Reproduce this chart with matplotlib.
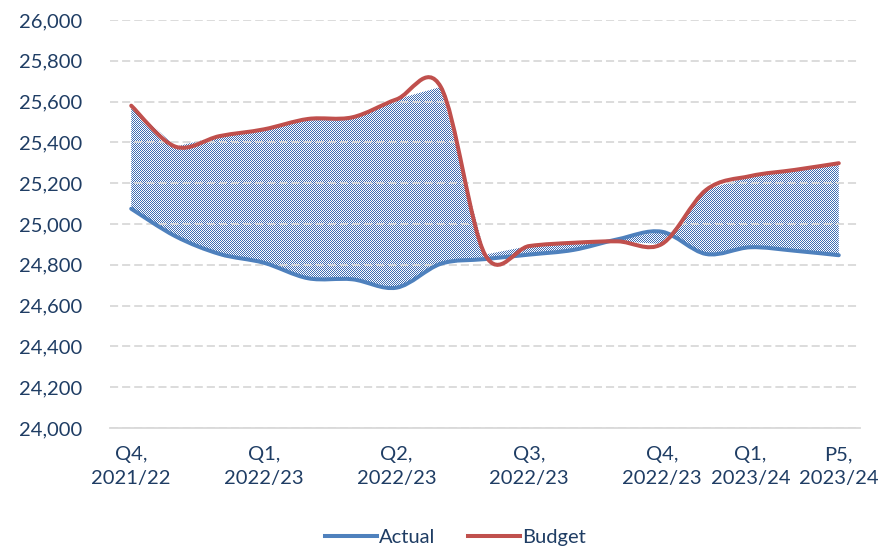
import numpy as np
import matplotlib
matplotlib.use("Agg")
import matplotlib.pyplot as plt
from matplotlib.path import Path
from matplotlib.patches import PathPatch, Polygon
from matplotlib.ticker import FuncFormatter

# Dados (17 pontos, de Q4 2021/22 até P5 2023/24)
actual = [25075, 24940, 24853, 24810, 24734, 24729, 24688, 24805, 24828,
          24850, 24873, 24925, 24962, 24853, 24886, 24869, 24847]
budget = [25580, 25379, 25431, 25464, 25515, 25523, 25611, 25672, 24850,
          24892, 24908, 24915, 24902, 25167, 25235, 25265, 25298]
tick_pos = [0, 3, 6, 9, 12, 14, 16]
tick_labels = ["Q4,\n2021/22", "Q1,\n2022/23", "Q2,\n2022/23", "Q3,\n2022/23",
               "Q4,\n2022/23", "Q1,\n2023/24", "P5,\n2023/24"]

BLUE = "#4F81BD"
RED = "#C0504D"
TXT = "#1F3D64"
GRID = "#D9D9D9"

plt.rcParams["font.family"] = ["Lato", "DejaVu Sans"]


def smooth_path(xs, ys):
    """Curva suavizada (Catmull-Rom em Bezier) passando pelos pontos."""
    p = np.column_stack([xs, ys]).astype(float)
    n = len(p)
    verts = [p[0]]
    codes = [Path.MOVETO]
    for i in range(n - 1):
        p0 = p[i - 1] if i > 0 else p[i]
        p1 = p[i]
        p2 = p[i + 1]
        p3 = p[i + 2] if i + 2 < n else p[i + 1]
        c1 = p1 + (p2 - p0) / 6.0
        c2 = p2 - (p3 - p1) / 6.0
        verts += [c1, c2, p2]
        codes += [Path.CURVE4] * 3
    return Path(verts, codes)


W, H = 884, 548
fig = plt.figure(figsize=(W / 100, H / 100), dpi=100)
ax = fig.add_axes([110 / W, 1 - 428 / H, 750 / W, 408 / H])
ax.patch.set_visible(False)

x = np.arange(len(actual))

# área quadriculada entre as duas séries (segmentos retos, como no Excel)
poly = Polygon(np.column_stack([np.r_[x, x[::-1]],
                                np.r_[budget, actual[::-1]]]),
               closed=True, facecolor="none", edgecolor="none",
               transform=ax.transData)
ax.add_patch(poly)
checker = np.add.outer(np.arange(H), np.arange(W)) % 2
rgba = np.ones((H, W, 4))
rgba[checker == 1, :3] = np.array([0x3F, 0x6D, 0xB3]) / 255.0
fim = fig.figimage(rgba, xo=0, yo=0, origin="lower", zorder=-1)
fim.set_clip_path(poly)

# linhas suavizadas
ax.add_patch(PathPatch(smooth_path(x, actual), facecolor="none",
                       edgecolor=BLUE, lw=2.9, capstyle="round", zorder=3))
ax.add_patch(PathPatch(smooth_path(x, budget), facecolor="none",
                       edgecolor=RED, lw=2.9, capstyle="round", zorder=4))

ax.set_xlim(-0.48, 16.48)
ax.set_ylim(24000, 26000)
ax.set_yticks(np.arange(24000, 26001, 200))
ax.yaxis.set_major_formatter(FuncFormatter(lambda v, _: f"{v:,.0f}"))
ax.set_xticks(tick_pos)
ax.set_xticklabels(tick_labels, linespacing=1.5)

ax.grid(axis="y", color=GRID, lw=1.3, dashes=(4.5, 2.2), zorder=0)
ax.set_axisbelow(True)
for s in ["top", "right", "left"]:
    ax.spines[s].set_visible(False)
ax.spines["bottom"].set_color(GRID)
ax.spines["bottom"].set_linewidth(1.3)
ax.tick_params(axis="y", length=0, pad=20, labelsize=14.5, labelcolor=TXT)
ax.tick_params(axis="x", length=0, pad=13, labelsize=14.5, labelcolor=TXT)

# legenda
h1, = ax.plot([], [], color=BLUE, lw=2.9, label="Actual")
h2, = ax.plot([], [], color=RED, lw=2.9, label="Budget")
leg = fig.legend(handles=[h1, h2], loc="lower center", ncol=2,
                 bbox_to_anchor=(0.515, -0.03), frameon=False,
                 fontsize=14.5, handlelength=2.6, handletextpad=0.1,
                 columnspacing=1.6)
for t in leg.get_texts():
    t.set_color(TXT)

fig.savefig("out.png", dpi=100)
